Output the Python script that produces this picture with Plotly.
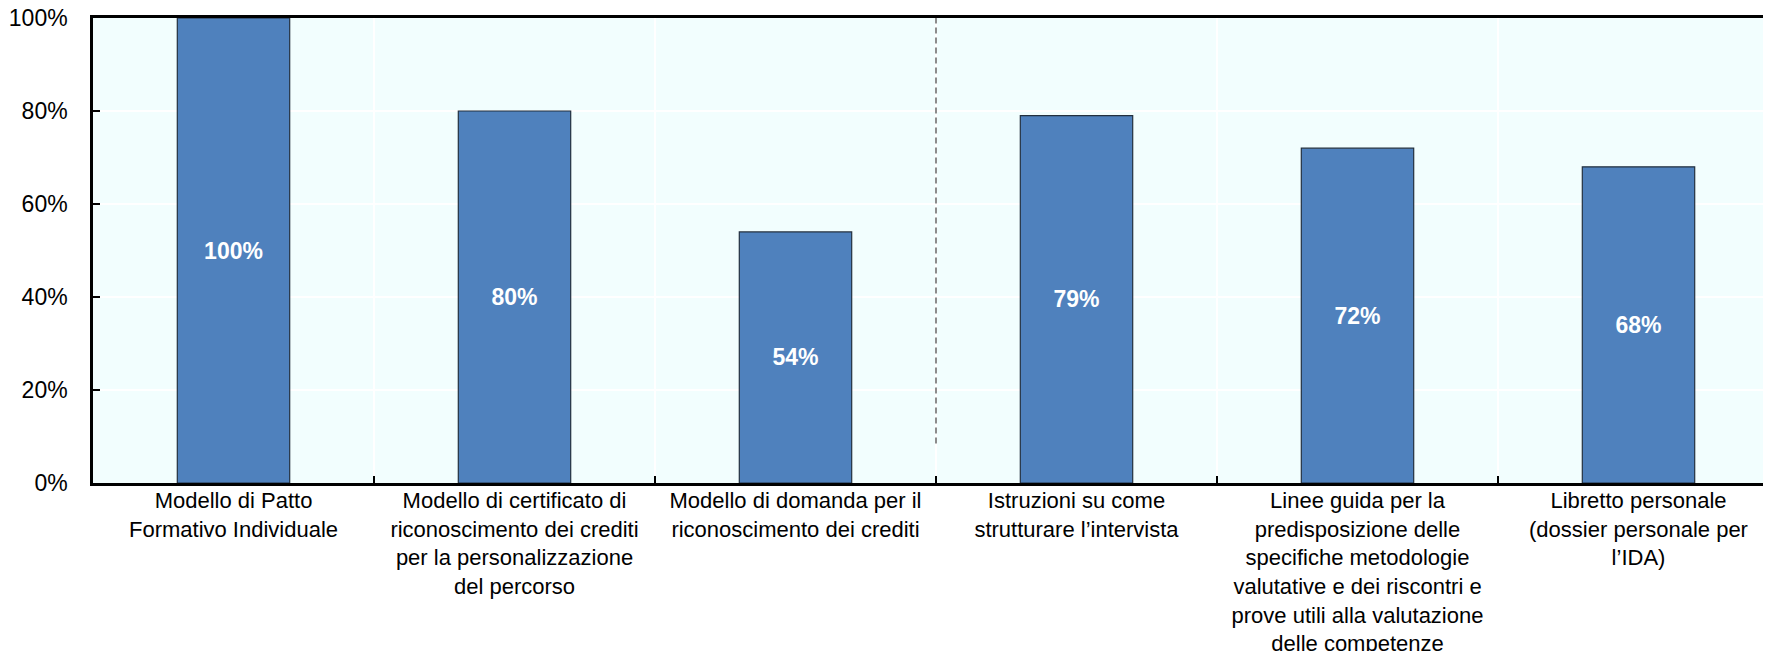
import plotly.graph_objects as go

categories = [
    "Modello di Patto<br>Formativo Individuale",
    "Modello di certificato di<br>riconoscimento dei crediti<br>per la personalizzazione<br>del percorso",
    "Modello di domanda per il<br>riconoscimento dei crediti",
    "Istruzioni su come<br>strutturare l’intervista",
    "Linee guida per la<br>predisposizione delle<br>specifiche metodologie<br>valutative e dei riscontri e<br>prove utili alla valutazione<br>delle competenze",
    "Libretto personale<br>(dossier personale per<br>l’IDA)",
]
values = [1.00, 0.80, 0.54, 0.79, 0.72, 0.68]
y_ticks = [0, 0.2, 0.4, 0.6, 0.8, 1.0]

FONT = "Liberation Sans, Arial, sans-serif"

fig = go.Figure()
fig.add_trace(go.Bar(
    x=categories,
    y=values,
    width=0.4,
    marker=dict(color="#4F81BD", line=dict(color="#23303f", width=1.2)),
    texttemplate="<b>%{y:.0%}</b>",
    textposition="inside",
    insidetextanchor="middle",
    textangle=0,
    textfont=dict(family=FONT, size=23, color="white"),
    constraintext="none",
    hoverinfo="skip",
))

# dashed separator between group of categories
fig.add_shape(type="line", xref="x", yref="y", x0=2.5, x1=2.5, y0=0.085, y1=1.0,
              line=dict(color="#8c8c8c", width=2, dash="6px,4px"), layer="above")

# the page body adds an 8px offset; the plot area deliberately runs past the right edge
fig.update_layout(
    width=1771, height=651,
    margin=dict(l=85, r=0, t=10, b=176),
    paper_bgcolor="white",
    plot_bgcolor="#F2FEFE",
    showlegend=False,
    bargap=0.6,
    font=dict(family=FONT, size=22, color="black"),
)
fig.update_xaxes(
    type="category",
    automargin=False,
    range=[-0.5, 5.5],
    tickson="boundaries",
    ticks="inside", ticklen=7, tickcolor="black", tickwidth=2,
    showgrid=True, gridcolor="white", gridwidth=2,
    showline=True, linecolor="black", linewidth=2.5, mirror=True,
    tickfont=dict(family=FONT, size=22, color="black"),
    tickangle=0,
    ticklabelstandoff=-4,
    ticklabeloverflow="allow",
)
fig.update_yaxes(
    automargin=False,
    range=[0, 1.0],
    tickvals=y_ticks,
    tickformat=".0%",
    ticks="inside", ticklen=7, tickcolor="black", tickwidth=2,
    showgrid=True, gridcolor="white", gridwidth=2,
    showline=True, linecolor="black", linewidth=2.5,
    zeroline=False,
    ticklabelstandoff=18,
    ticklabeloverflow="allow",
    tickfont=dict(family=FONT, size=23, color="black"),
)

fig.write_html("out.html")
